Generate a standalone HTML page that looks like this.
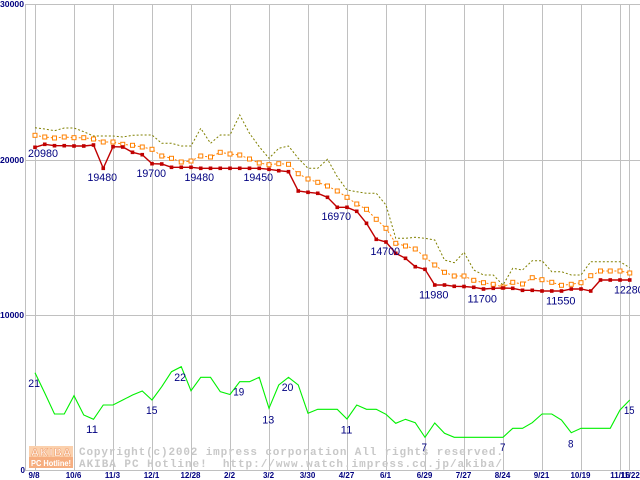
<!DOCTYPE html>
<html><head><meta charset="utf-8"><style>
html,body{margin:0;padding:0;background:#fff;}
svg{display:block;}
.lbl{font-family:"Liberation Sans",sans-serif;font-size:11px;fill:#000080;}
.ax{font-family:"Liberation Sans",sans-serif;font-size:8px;font-weight:bold;fill:#000080;}
.cp{font-family:"Liberation Mono",monospace;font-size:11px;font-weight:bold;fill:#c8c8c8;}
</style></head><body>
<svg width="640" height="480" viewBox="0 0 640 480" xmlns="http://www.w3.org/2000/svg">
<defs>
<marker id="mr" markerUnits="userSpaceOnUse" markerWidth="6" markerHeight="6" refX="3" refY="3"><rect x="1.2" y="1.2" width="3.6" height="3.6" fill="#c00000"/></marker>
<marker id="mo" markerUnits="userSpaceOnUse" markerWidth="6" markerHeight="6" refX="3" refY="3"><rect x="1" y="1" width="4" height="4" fill="#fff" stroke="#ff8000" stroke-width="1"/></marker>
</defs>
<g stroke="#c0c0c0" stroke-width="1" shape-rendering="crispEdges">
<line x1="25" y1="4.5" x2="640" y2="4.5"/>
<line x1="25" y1="160.5" x2="640" y2="160.5"/>
<line x1="25" y1="315.5" x2="640" y2="315.5"/>
<line x1="25" y1="470.5" x2="640" y2="470.5"/>
<line x1="25.5" y1="4" x2="25.5" y2="471"/>
<line x1="35.5" y1="4" x2="35.5" y2="471"/>
<line x1="74.5" y1="4" x2="74.5" y2="471"/>
<line x1="113.5" y1="4" x2="113.5" y2="471"/>
<line x1="152.5" y1="4" x2="152.5" y2="471"/>
<line x1="191.5" y1="4" x2="191.5" y2="471"/>
<line x1="230.5" y1="4" x2="230.5" y2="471"/>
<line x1="269.5" y1="4" x2="269.5" y2="471"/>
<line x1="308.5" y1="4" x2="308.5" y2="471"/>
<line x1="347.5" y1="4" x2="347.5" y2="471"/>
<line x1="386.5" y1="4" x2="386.5" y2="471"/>
<line x1="425.5" y1="4" x2="425.5" y2="471"/>
<line x1="464.5" y1="4" x2="464.5" y2="471"/>
<line x1="503.5" y1="4" x2="503.5" y2="471"/>
<line x1="542.5" y1="4" x2="542.5" y2="471"/>
<line x1="581.5" y1="4" x2="581.5" y2="471"/>
<line x1="620.5" y1="4" x2="620.5" y2="471"/>
<line x1="629.5" y1="4" x2="629.5" y2="471"/>
</g>

<!-- logo + copyright -->
<g>
<rect x="29" y="446" width="44" height="11" fill="#fbd0ac"/>
<rect x="29" y="457" width="44" height="11" fill="#f6ae80"/>
<text x="31" y="456" font-family="Liberation Sans,sans-serif" font-size="11" font-weight="bold" fill="#fff" stroke="#f0a070" stroke-width="0.6" textLength="40" lengthAdjust="spacing">AKIBA</text>
<text x="31" y="466" font-family="Liberation Sans,sans-serif" font-size="8" font-weight="bold" fill="#fff" textLength="40" lengthAdjust="spacingAndGlyphs">PC Hotline!</text>
<text class="cp" x="79" y="455" textLength="424" lengthAdjust="spacing">Copyright(c)2002 impress corporation All rights reserved.</text>
<text class="cp" x="79" y="467" textLength="423" lengthAdjust="spacing" xml:space="preserve">AKIBA PC Hotline!  http://www.watch.impress.co.jp/akiba/</text>
</g>

<!-- olive -->
<polyline fill="none" stroke="#808000" stroke-width="1" stroke-dasharray="2 2" points="35,127.7 44.75,129 54.5,130.7 64.25,128 74,128 83.75,131.7 93.5,136 103.25,136 113,136 122.75,137 132.5,135.3 142.25,135 152,135 161.75,143.3 171.5,143.3 181.25,146 191,146 200.75,128.3 210.5,143.3 220.25,135 230,135 239.75,115 249.5,133.3 259.25,146.7 269,158.3 278.75,148.3 288.5,146 298.25,158.3 308,168.3 317.75,168.3 327.5,159.3 337.25,176.7 347,190 356.75,191.7 366.5,193.3 376.25,193.3 386,205 395.75,238.3 405.5,238.3 415.25,237.3 425,238.3 434.75,240 444.5,260 454.25,262.7 464,252.3 473.75,270 483.5,275 493.25,275 503,285 512.75,268.3 522.5,270 532.25,260.7 542,260.7 551.75,271.7 561.5,271.7 571.25,275 581,275 590.75,261.7 600.5,261.7 610.25,261.7 620,261.7 629.75,267.7"/>

<!-- orange -->
<polyline fill="none" stroke="#ff8000" stroke-width="1" stroke-dasharray="2 2" marker-start="url(#mo)" marker-mid="url(#mo)" marker-end="url(#mo)" points="35,135.3 44.75,137 54.5,138 64.25,137 74,137.7 83.75,137.7 93.5,139 103.25,142 113,142 122.75,144.3 132.5,145.3 142.25,147 152,149.3 161.75,156 171.5,158.3 181.25,162 191,161 200.75,156 210.5,157 220.25,152.3 230,154 239.75,155 249.5,159 259.25,163 269,164.7 278.75,163.7 288.5,164.3 298.25,173.7 308,179 317.75,182.3 327.5,186 337.25,191 347,197.3 356.75,204 366.5,209.3 376.25,219.3 386,228.3 395.75,243.3 405.5,246 415.25,249 425,257 434.75,265 444.5,272.3 454.25,276 464,276 473.75,280.3 483.5,282.7 493.25,284.3 503,287 512.75,282.3 522.5,284 532.25,277.7 542,279.7 551.75,282.3 561.5,285.3 571.25,284.3 581,282.7 590.75,275.7 600.5,271 610.25,271 620,271 629.75,273"/>

<!-- red -->
<polyline fill="none" stroke="#c00000" stroke-width="1.4" marker-start="url(#mr)" marker-mid="url(#mr)" marker-end="url(#mr)" points="35,147.3 44.75,144.3 54.5,145.7 64.25,145.7 74,146 83.75,146 93.5,145 103.25,168.3 113,146.7 122.75,147 132.5,152.3 142.25,154.7 152,163.7 161.75,164 171.5,167.3 181.25,167.3 191,167.3 200.75,168.3 210.5,168.3 220.25,168.3 230,168.3 239.75,168.3 249.5,168.3 259.25,168.3 269,169.3 278.75,170.7 288.5,171.7 298.25,191 308,192.3 317.75,193.3 327.5,197.3 337.25,207.3 347,207.3 356.75,211.3 366.5,223.3 376.25,239.3 386,242 395.75,253.3 405.5,258.3 415.25,266.7 425,269.3 434.75,285 444.5,285 454.25,286.3 464,286.5 473.75,287.3 483.5,289 493.25,288.3 503,288 512.75,288.3 522.5,290.3 532.25,290.3 542,291 551.75,291 561.5,291 571.25,289 581,289 590.75,291 600.5,280 610.25,280 620,280 629.75,280"/>

<!-- green -->
<polyline fill="none" stroke="#00f000" stroke-width="1.1" points="35,372.7 44.75,393 54.5,414 64.25,414 74,395.7 83.75,415 93.5,419.3 103.25,405 113,405 122.75,400 132.5,395 142.25,391 152,400 161.75,386.7 171.5,371.7 181.25,366.7 191,390.7 200.75,377.3 210.5,377.3 220.25,391.7 230,394.5 239.75,381.7 249.5,381.7 259.25,377.3 269,408.3 278.75,385 288.5,377.3 298.25,385 308,413.3 317.75,409.3 327.5,409.3 337.25,409.3 347,419 356.75,405 366.5,409.3 376.25,409.3 386,414.3 395.75,423.3 405.5,419.3 415.25,422.7 425,437.3 434.75,423 444.5,433.3 454.25,437.3 464,437.3 473.75,437.3 483.5,437.3 493.25,437.3 503,437.3 512.75,428.3 522.5,428.3 532.25,422.7 542,414 551.75,414 561.5,420 571.25,432.7 581,428.3 590.75,428.3 600.5,428.3 610.25,428.3 620,410 629.75,400"/>

<!-- price labels -->
<g class="lbl">
<text x="28" y="157" textLength="30" lengthAdjust="spacingAndGlyphs">20980</text>
<text x="87.5" y="181" textLength="29.5" lengthAdjust="spacingAndGlyphs">19480</text>
<text x="136.5" y="177" textLength="29.5" lengthAdjust="spacingAndGlyphs">19700</text>
<text x="184.5" y="181" textLength="29.5" lengthAdjust="spacingAndGlyphs">19480</text>
<text x="243.5" y="181" textLength="29.5" lengthAdjust="spacingAndGlyphs">19450</text>
<text x="321.5" y="220" textLength="29.5" lengthAdjust="spacingAndGlyphs">16970</text>
<text x="370.5" y="255" textLength="29.5" lengthAdjust="spacingAndGlyphs">14700</text>
<text x="419" y="298.5" textLength="29.5" lengthAdjust="spacingAndGlyphs">11980</text>
<text x="467.5" y="302.5" textLength="29.5" lengthAdjust="spacingAndGlyphs">11700</text>
<text x="546" y="304.5" textLength="29.5" lengthAdjust="spacingAndGlyphs">11550</text>
<text x="614" y="293.5" textLength="29.5" lengthAdjust="spacingAndGlyphs">12280</text>
<!-- counts -->
<text x="28.3" y="387" textLength="11.7" lengthAdjust="spacingAndGlyphs">21</text>
<text x="86" y="433" textLength="12" lengthAdjust="spacingAndGlyphs">11</text>
<text x="146" y="414" textLength="11.5" lengthAdjust="spacingAndGlyphs">15</text>
<text x="174.3" y="381" textLength="11.7" lengthAdjust="spacingAndGlyphs">22</text>
<text x="233.3" y="395.5" textLength="11" lengthAdjust="spacingAndGlyphs">19</text>
<text x="262.3" y="423.5" textLength="12" lengthAdjust="spacingAndGlyphs">13</text>
<text x="281.7" y="391" textLength="11.7" lengthAdjust="spacingAndGlyphs">20</text>
<text x="340.7" y="433.5" textLength="11.7" lengthAdjust="spacingAndGlyphs">11</text>
<text x="421.5" y="451" textLength="5.5" lengthAdjust="spacingAndGlyphs">7</text>
<text x="500" y="451" textLength="5.5" lengthAdjust="spacingAndGlyphs">7</text>
<text x="568" y="447.5" textLength="5.5" lengthAdjust="spacingAndGlyphs">8</text>
<text x="624" y="414" textLength="10.5" lengthAdjust="spacingAndGlyphs">15</text>
</g>

<!-- y axis labels -->
<g class="ax">
<text x="0" y="7" textLength="24" lengthAdjust="spacingAndGlyphs">30000</text>
<text x="0" y="163" textLength="24" lengthAdjust="spacingAndGlyphs">20000</text>
<text x="0" y="318" textLength="24" lengthAdjust="spacingAndGlyphs">10000</text>
<text x="20.5" y="473">0</text>
</g>
<!-- x axis labels -->
<g class="ax" text-anchor="middle">
<text x="34" y="478">9/8</text>
<text x="73.5" y="478">10/6</text>
<text x="112.5" y="478">11/3</text>
<text x="151.5" y="478">12/1</text>
<text x="190.5" y="478">12/28</text>
<text x="229.5" y="478">2/2</text>
<text x="268.5" y="478">3/2</text>
<text x="307.5" y="478">3/30</text>
<text x="346.5" y="478">4/27</text>
<text x="385.5" y="478">6/1</text>
<text x="424.5" y="478">6/29</text>
<text x="463.5" y="478">7/27</text>
<text x="502.5" y="478">8/24</text>
<text x="541.5" y="478">9/21</text>
<text x="580.5" y="478">10/19</text>
<text x="620" y="478">11/16</text>
<text x="630" y="478">11/22</text>
</g>
</svg>
</body></html>
